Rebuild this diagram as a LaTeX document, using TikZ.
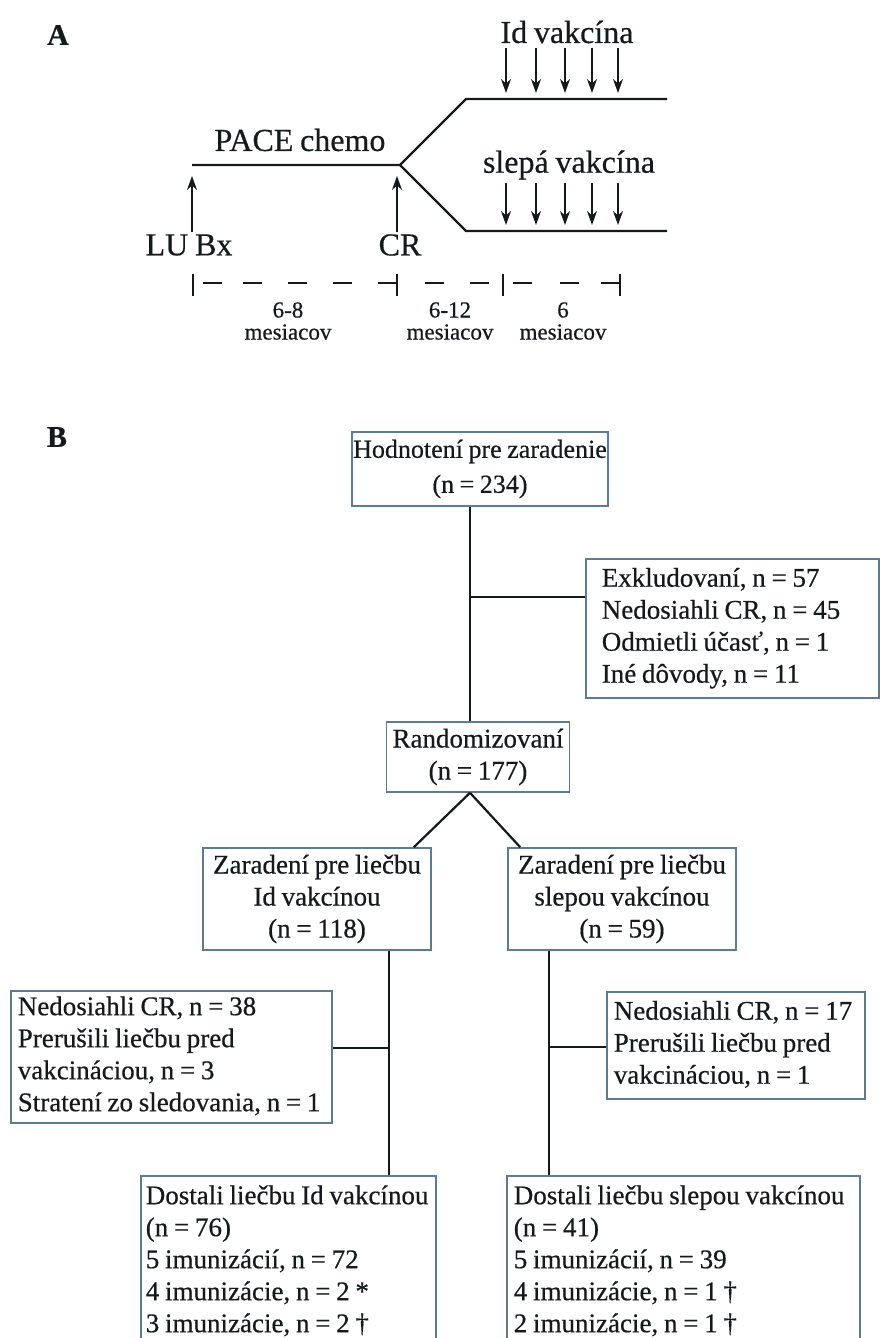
\documentclass[tikz,border=0pt]{standalone}
\usepackage{fontspec}
\setmainfont{Liberation Serif}[WordSpace=0.85, FakeBold=0.5]
\usetikzlibrary{arrows.meta}
\definecolor{boxslate}{RGB}{92, 124, 146}
\definecolor{inkdark}{RGB}{20, 26, 28}
\tikzstyle{trial} = [
  x=1pt,
  y=-1pt,
  line width=2.2pt,
  color=inkdark,
  font=\fontsize{27}{32}\selectfont,
]
\tikzstyle{box} = [draw=boxslate, line width=1.6pt, inner sep=0pt, align=center]
\tikzstyle{listbox} = [box, align=left, anchor=north west, inner xsep=7pt]
\tikzstyle{shot} = [-{Stealth[length=14pt, width=10pt]}, line width=2pt]
\tikzstyle{panel} = [font=\fontsize{30}{32}\selectfont\bfseries]
\tikzstyle{armtext} = [font=\fontsize{32}{36}\selectfont, inner sep=1pt]
\tikzstyle{timetext} = [font=\fontsize{23}{22}\selectfont, align=center, inner sep=0pt]
% lines of a list box, kept unbroken, plain word spaces
\newcommand{\boxlines}[1]{\spaceskip=0pt \xspaceskip=0pt\begin{tabular}{@{}l@{}}#1\end{tabular}}

\begin{document}
\begin{tikzpicture}[trial]
            \useasboundingbox (0,0) rectangle (880,1338);

            % Panel A
            \node[panel] (pa) at (58,35) {A};

            \coordinate (lubx) at (192,165);
            \coordinate (fork) at (400,165);
            \coordinate (idbeg) at (466,99);
            \coordinate (idend) at (667,99);
            \coordinate (slbeg) at (466,231);
            \coordinate (slend) at (667,231);

            % Treatment lines
            \draw (lubx) -- (fork) -- (idbeg) -- (idend);
            \draw (fork) -- (slbeg) -- (slend);

            \node[armtext] (pace) at (300,140) {PACE chemo};
            \node[armtext] (idvac) at (567,32) {Id vakcína};
            \node[armtext] (slvac) at (569,165) {slepá vakcína};
            \node[armtext] (lubxlbl) at (189,245) {LU Bx};
            \node[armtext] (crlbl) at (400,245) {CR};

            % Injections
            \foreach \x in {506,536,565,592,618} {
              \draw[shot] (\x,48) -- (\x,93);
              \draw[shot] (\x,183) -- (\x,225);
            }
            \draw[shot] (lubxlbl.north -| lubx) -- ([yshift=-11pt]lubx);
            \draw[shot] (crlbl.north -| 397,0) -- ([yshift=-11pt,xshift=-3pt]fork);

            % Time axis
            \foreach \x in {193,397,503,620} \draw[line width=1.8pt] (\x,274) -- (\x,296);
            \foreach \x in {203,243,288,333,378,425,470,513,560,601} \draw[line width=1.8pt] (\x,283) -- +(19,0);

            \node[timetext] (dur1) at (288,321) {6-8\\mesiacov};
            \node[timetext] (dur2) at (450,321) {6-12\\mesiacov};
            \node[timetext] (dur3) at (563,321) {6\\mesiacov};

            % Panel B
            \node[panel] (pb) at (57,437) {B};

            \node[box, minimum width=256pt, minimum height=74pt, font=\fontsize{26}{35}\selectfont] (eval) at (480,469) {Hodnotení pre zaradenie\\(n = 234)};
            \node[box, minimum width=183pt, minimum height=70pt] (rand) at (478,757) {Randomizovaní\\(n = 177)};
            \node[box, minimum width=228pt, minimum height=102pt] (armid) at (317,899) {Zaradení pre liečbu\\Id vakcínou\\(n = 118)};
            \node[box, minimum width=228pt, minimum height=102pt] (armsl) at (622,899) {Zaradení pre liečbu\\slepou vakcínou\\(n = 59)};

            \node[listbox, inner xsep=16pt, text width=261pt, minimum height=139pt] (excl) at (585,558) {\boxlines{Exkludovaní, n = 57\\Nedosiahli CR, n = 45\\Odmietli účasť, n = 1\\Iné dôvody, n = 11}};
            \node[listbox, text width=307pt, minimum height=132pt] (exid) at (10,990) {\boxlines{Nedosiahli CR, n = 38\\Prerušili liečbu pred\\vakcináciou, n = 3\\Stratení zo sledovania, n = 1}};
            \node[listbox, text width=244pt, minimum height=107pt] (exsl) at (606,991) {\boxlines{Nedosiahli CR, n = 17\\Prerušili liečbu pred\\vakcináciou, n = 1}};
            \node[listbox, inner xsep=5pt, text width=285pt, minimum height=172pt] (gotid) at (140,1175) {\boxlines{Dostali liečbu Id vakcínou\\(n = 76)\\5 imunizácií, n = 72\\4 imunizácie, n = 2 *\\3 imunizácie, n = 2 †}};
            \node[listbox, text width=339pt, minimum height=172pt] (gotsl) at (506,1175) {\boxlines{Dostali liečbu slepou vakcínou\\(n = 41)\\5 imunizácií, n = 39\\4 imunizácie, n = 1 †\\2 imunizácie, n = 1 †}};

            % Connectors
            \coordinate (spine) at (470,0);
            \draw (eval.south -| spine) -- (rand.north -| spine);
            \coordinate (exjoin) at (470,597);
            \draw (exjoin) -- (exjoin -| excl.west);
            \coordinate (apex) at (rand.south -| spine);
            \draw (apex) -- ([xshift=-18pt]armid.north east);
            \draw (apex) -- ([xshift=13pt]armsl.north west);
            \coordinate (idjoin) at (389,1048);
            \draw (armid.south -| idjoin) -- (gotid.north -| idjoin);
            \draw (idjoin) -- (idjoin -| exid.east);
            \coordinate (sljoin) at (549,1047);
            \draw (armsl.south -| sljoin) -- (gotsl.north -| sljoin);
            \draw (sljoin) -- (sljoin -| exsl.west);
          \end{tikzpicture}
\end{document}
